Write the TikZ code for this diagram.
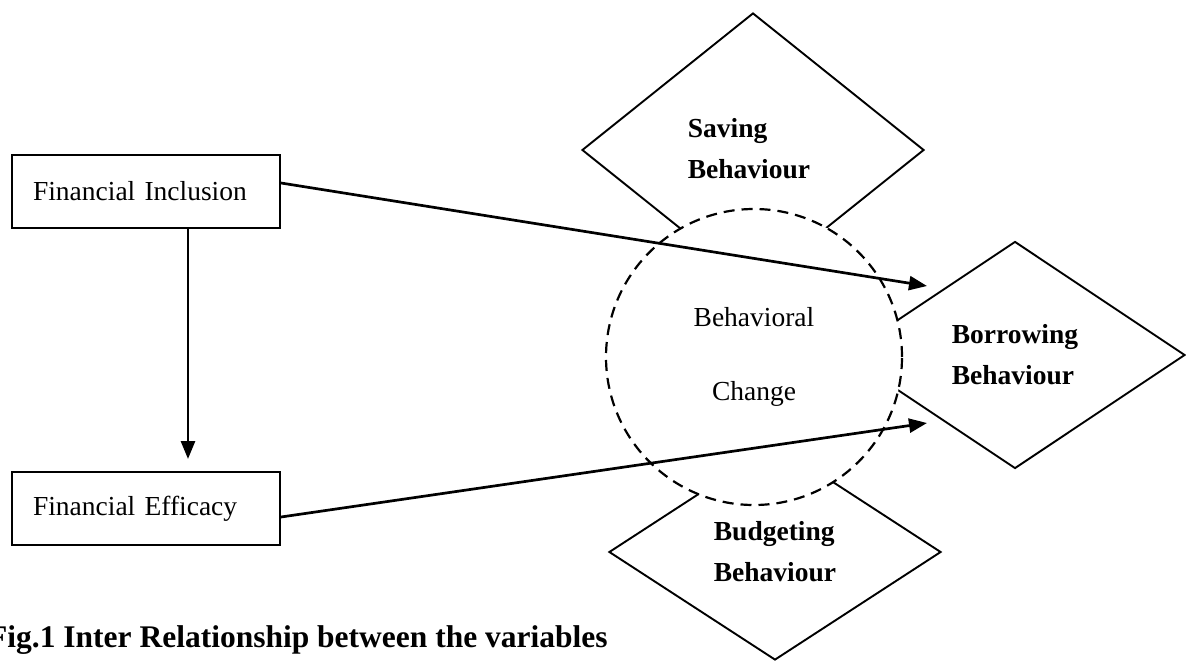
\documentclass[tikz,border=0pt]{standalone}
\usepackage{fontspec}
\setmainfont{Liberation Serif}
\usetikzlibrary{arrows.meta,shapes.geometric}
\begin{document}
\begin{tikzpicture}[x=1pt,y=-1pt,
  txt/.style={font=\fontsize{27.5}{41}\selectfont},
  boxnode/.style={draw, line width=2pt, rectangle, minimum width=268pt, minimum height=73pt,
     text width=226pt, inner xsep=21pt, inner ysep=0pt, align=left, txt},
  dianode/.style={draw, line width=1.9pt, diamond, inner sep=0pt, align=left,
     font=\bfseries\fontsize{27.5}{41}\selectfont},
  circnode/.style={circle, draw, fill=white, dash pattern=on 11pt off 7pt, line width=2.2pt,
     minimum size=296pt, inner sep=0pt, align=center, font=\fontsize{27.5}{74}\selectfont},
  conn/.style={line width=2.7pt, -{Triangle[length=18pt,width=14pt]}}
]
\useasboundingbox (0,0) rectangle (1186,661);

% boxes
\node[boxnode] (fi) at (146,191.5) {Financial Inclusion};
\node[boxnode] (fe) at (146,508.5) {Financial Efficacy};

% diamonds
\node[dianode, minimum width=342pt, minimum height=274pt] (sav) at (753,150)
  {\hspace*{-8pt}\raisebox{12pt}{\begin{tabular}{@{}l@{}}Saving\\Behaviour\end{tabular}}};
\node[dianode, minimum width=340pt, minimum height=227pt] (bor) at (1015,355)
  {Borrowing\\Behaviour};
\node[dianode, minimum width=332pt, minimum height=216pt] (bud) at (775,552)
  {Budgeting\\Behaviour};

% circle
\node[circnode] (bc) at (754,357) {Behavioral\\Change};

% connectors
\coordinate (t1) at (927,286);
\coordinate (t2) at (927,423);
\draw[conn] ([yshift=8.5pt]fi.east) -- (t1);
\draw[conn] ([yshift=-8.5pt]fe.east) -- (t2);
\draw[conn] ([xshift=42pt]fi.south) -- ([xshift=42pt,yshift=12pt]fe.north);

% caption
\node[anchor=base west, inner sep=0pt, font=\bfseries\fontsize{31.5}{36}\selectfont] (cap)
  at (-12,647) {Fig.1 Inter Relationship between the variables};
\end{tikzpicture}
\end{document}
